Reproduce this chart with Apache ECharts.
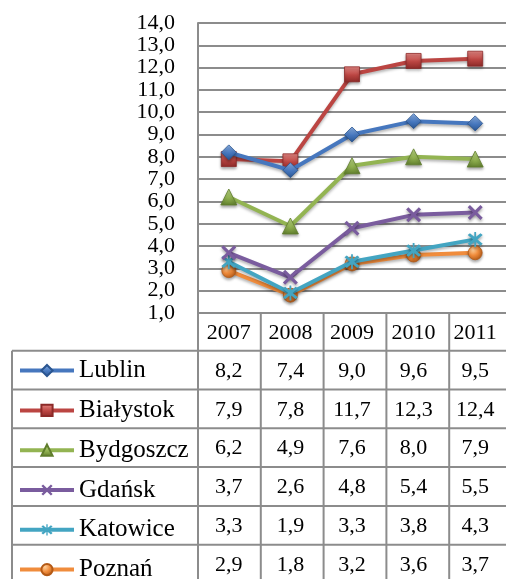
<!DOCTYPE html>
<html><head><meta charset="utf-8">
<script src="https://cdn.jsdelivr.net/npm/echarts@6/dist/echarts.min.js"></script>
<style>html,body{margin:0;padding:0;background:#fff}#c{width:506px;height:579px}</style>
</head><body><div id="c"></div>
<script>
var years = ['2007','2008','2009','2010','2011'];
var names = ['Lublin','Białystok','Bydgoszcz','Gdańsk','Katowice','Poznań'];
var lublin    = [8.2, 7.4, 9.0, 9.6, 9.5];
var bialystok = [7.9, 7.8, 11.7, 12.3, 12.4];
var bydgoszcz = [6.2, 4.9, 7.6, 8.0, 7.9];
var gdansk    = [3.7, 2.6, 4.8, 5.4, 5.5];
var katowice  = [3.3, 1.9, 3.3, 3.8, 4.3];
var poznan    = [2.9, 1.8, 3.2, 3.6, 3.7];
var seriesData = [lublin, bialystok, bydgoszcz, gdansk, katowice, poznan];
var yMin = 1, yMax = 14, yStep = 1;

var colors = ['#4677be','#bb4542','#93b452','#7a5c9e','#43a5c2','#f08c3c'];
var dark   = ['#2a5590','#8c2a28','#5f7d2c','#523a74','#237a93','#b45a16'];
var light  = ['#8fb4e8','#e88a86','#c3de8c','#b49bd0','#98dcef','#ffd09a'];
var xPath = 'path://M0,3 L3,0 L10,7 L17,0 L20,3 L13,10 L20,17 L17,20 L10,13 L3,20 L0,17 L7,10 Z';
var starPath = 'path://M0,3 L3,0 L10,7 L17,0 L20,3 L13,10 L20,17 L17,20 L10,13 L3,20 L0,17 L7,10 Z M8.8,-2 L11.2,-2 L11.2,22 L8.8,22 Z';
var symbols = ['diamond','rect','triangle',xPath,starPath,'circle'];
var sizes = [15,15,16,15,15,14];

var FONT = 'Liberation Serif';
var fmt = function(v){ return v.toFixed(1).replace('.', ','); };

var GL = 198, GT = 23, GW = 314, GH = 290;
var TL = 12, rowTop = 350.7, rowH = 38.8;
var lineCol = '#8c8c8c';

function grad(i){
  if (i === 5) return new echarts.graphic.RadialGradient(0.35,0.3,0.75,[{offset:0,color:light[i]},{offset:0.5,color:colors[i]},{offset:1,color:dark[i]}]);
  return new echarts.graphic.LinearGradient(0,0,0,1,[{offset:0,color:light[i]},{offset:0.55,color:colors[i]},{offset:1,color:dark[i]}]);
}

var series = names.map(function(n,i){
  var flat = (i===3||i===4);
  return {
    name: n, type: 'line', data: seriesData[i],
    symbol: symbols[i], symbolSize: sizes[i], showAllSymbol: true,
    lineStyle: {width: 4, color: colors[i], shadowBlur: 3, shadowColor: 'rgba(0,0,0,0.3)', shadowOffsetY: 2},
    itemStyle: {color: flat ? colors[i] : grad(i), borderColor: flat ? colors[i] : dark[i], borderWidth: flat ? 0 : 0.8, shadowBlur: 3, shadowColor: 'rgba(0,0,0,0.35)', shadowOffsetY: 2},
    emphasis: {disabled: true},
    z: 10 - i
  };
});

var chart = echarts.init(document.getElementById('c'));
chart.setOption({
  animation: false,
  grid: {left: GL, top: GT, width: GW, height: GH},
  legend: {
    orient: 'vertical', left: 18, top: rowTop + rowH/2 - 12, height: 400, itemGap: rowH - 24,
    itemWidth: 54, itemHeight: 14, padding: 0,
    lineStyle: {width: 4},
    textStyle: {fontFamily: FONT, fontSize: 25, color: '#000', lineHeight: 24},
    data: names, selectedMode: false
  },
  xAxis: {
    type: 'category', data: years, boundaryGap: true,
    axisLine: {lineStyle: {color: lineCol, width: 2}},
    axisTick: {show: false},
    axisLabel: {fontFamily: FONT, fontSize: 22, color: '#000', margin: 9, lineHeight: 22}
  },
  yAxis: {
    type: 'value', min: yMin, max: yMax, interval: yStep,
    axisLine: {show: true, lineStyle: {color: lineCol, width: 2}},
    axisTick: {show: false},
    splitLine: {show: true, lineStyle: {color: lineCol, width: 2}},
    axisLabel: {fontFamily: FONT, fontSize: 22, color: '#000', margin: 23,
      formatter: function(v){return fmt(v);}}
  },
  series: series
});

// Data table below the plot
var g = [];
var right = GL + GW;
var nRows = names.length;
var bottom = rowTop + nRows * rowH;
function hline(x1,x2,y){ g.push({type:'line', shape:{x1:x1,y1:y,x2:x2,y2:y}, style:{stroke:lineCol, lineWidth:2}, z:1}); }
function vline(x,y1,y2){ g.push({type:'line', shape:{x1:x,y1:y1,x2:x,y2:y2}, style:{stroke:lineCol, lineWidth:2}, z:1}); }
for (var r = 0; r <= nRows; r++) hline(TL, right, rowTop + r*rowH);
vline(TL, rowTop, bottom);
for (var c = 0; c <= years.length; c++) vline(GL + c*GW/years.length, GT + GH, bottom);
for (var r2 = 0; r2 < nRows; r2++) {
  for (var c2 = 0; c2 < years.length; c2++) {
    var px = chart.convertToPixel({xAxisIndex: 0}, c2);
    g.push({type:'text', x: px, y: rowTop + r2*rowH + rowH/2 + 1, style:{text: fmt(seriesData[r2][c2]), font: '22px "'+FONT+'"', fill:'#000', align:'center', verticalAlign:'middle'}, z: 2});
  }
}
chart.setOption({graphic: g});
</script></body></html>
